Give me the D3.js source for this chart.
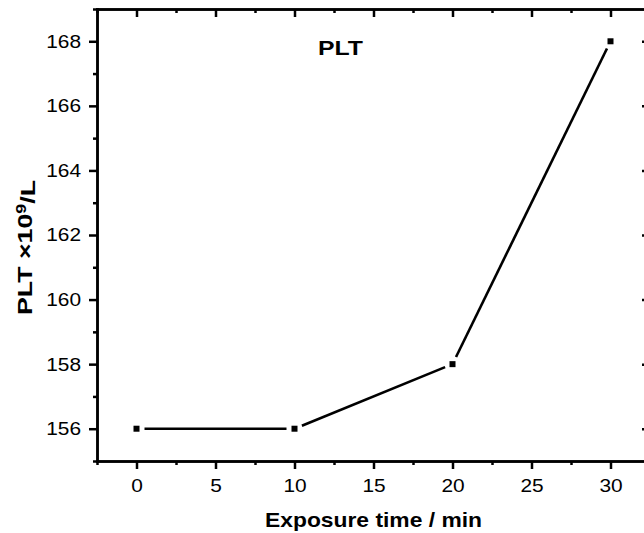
<!DOCTYPE html>
<html>
<head>
<meta charset="utf-8">
<script src="https://cdn.jsdelivr.net/npm/d3@7"></script>
<style>
  body { margin: 0; background: #fff; }
  svg { display: block; font-family: Arial, "Liberation Sans", sans-serif; }
  .axis path, .axis line { stroke: #000; stroke-width: 2.5px; }
  .axis path { stroke-linecap: square; }
  .axis text { font-size: 18.5px; fill: #000; }
</style>
</head>
<body>
<div id="chart"></div>
<script>
// datos
var tiempos = [0, 10, 20, 30];
var plt = [156, 156, 158, 168];
var xTicks = [0, 5, 10, 15, 20, 25, 30];
var xMinor = [-2.5, 2.5, 7.5, 12.5, 17.5, 22.5, 27.5, 32.5];
var yTicks = [156, 158, 160, 162, 164, 166, 168];
var yMinor = [155, 157, 159, 161, 163, 165, 167, 169];

var width = 644, height = 533;
var mLeft = 97, mRight = 650, mTop = 9, mBottom = 461;
var estirar = 1.13; // el texto original esta algo ensanchado

var svg = d3.select("#chart").append("svg")
    .attr("width", width)
    .attr("height", height);

var x = d3.scaleLinear().domain([-2.5, 32.5]).range([mLeft, mRight]);
var y = d3.scaleLinear().domain([155, 169]).range([mBottom, mTop]);

// ejes: menores primero, luego mayores con etiquetas
function eje(axisFn, scale, pos, minor, major, inside) {
  var g1 = svg.append("g").attr("class", "axis").attr("transform", pos);
  g1.call(axisFn(scale).tickValues(minor).tickSize(inside ? -4 : 4).tickSizeOuter(0).tickFormat(""));
  var g2 = svg.append("g").attr("class", "axis").attr("transform", pos);
  var a = axisFn(scale).tickValues(major).tickSize(inside ? -8 : 8).tickSizeOuter(0);
  if (inside) a.tickFormat("");
  g2.call(a);
  return g2;
}

var gx = eje(d3.axisBottom, x, "translate(0," + mBottom + ")", xMinor, xTicks, false);
gx.selectAll("text")
    .attr("y", 31)
    .attr("dy", 0)
    .attr("transform", "scale(" + estirar + ",1)");
eje(d3.axisTop, x, "translate(0," + mTop + ")", xMinor, xTicks, true);
var gy = eje(d3.axisLeft, y, "translate(" + mLeft + ",0)", yMinor, yTicks, false);
gy.selectAll("text")
    .attr("x", -16 / estirar)
    .attr("transform", "scale(" + estirar + ",1)");
eje(d3.axisRight, y, "translate(" + mRight + ",0)", yMinor, yTicks, true);

// linea con huecos alrededor de los puntos
var gap = 8;
var pts = tiempos.map(function(t, i) { return [x(t), y(plt[i])]; });
for (var i = 0; i < pts.length - 1; i++) {
  var p = pts[i], q = pts[i + 1];
  var dx = q[0] - p[0], dy = q[1] - p[1];
  var len = Math.sqrt(dx * dx + dy * dy);
  svg.append("line")
      .attr("x1", p[0] + dx / len * gap)
      .attr("y1", p[1] + dy / len * gap)
      .attr("x2", q[0] - dx / len * gap)
      .attr("y2", q[1] - dy / len * gap)
      .attr("stroke", "#000")
      .attr("stroke-width", 2.6);
}

svg.selectAll(".punto")
    .data(tiempos)
    .enter()
    .append("rect")
    .attr("class", "punto")
    .attr("x", function(d) { return x(d) - 3; })
    .attr("y", function(d, i) { return y(plt[i]) - 3; })
    .attr("width", 6)
    .attr("height", 6)
    .attr("fill", "#000");

// textos
svg.append("text")
    .attr("x", 318)
    .attr("y", 55)
    .attr("font-size", 21)
    .attr("font-weight", "bold")
    .attr("textLength", 45)
    .attr("lengthAdjust", "spacingAndGlyphs")
    .text("PLT");

svg.append("text")
    .attr("x", 265)
    .attr("y", 527)
    .attr("font-size", 21)
    .attr("font-weight", "bold")
    .attr("textLength", 217)
    .attr("lengthAdjust", "spacingAndGlyphs")
    .text("Exposure time / min");

var yl = svg.append("text")
    .attr("transform", "translate(32,315) rotate(-90)")
    .attr("font-size", 21)
    .attr("font-weight", "bold")
    .attr("textLength", 135)
    .attr("lengthAdjust", "spacingAndGlyphs");
yl.append("tspan").text("PLT \u00d710");
yl.append("tspan").attr("dy", "-0.45em").attr("font-size", 14).text("9");
yl.append("tspan").attr("dy", "0.45em").text("/L");
</script>
</body>
</html>
